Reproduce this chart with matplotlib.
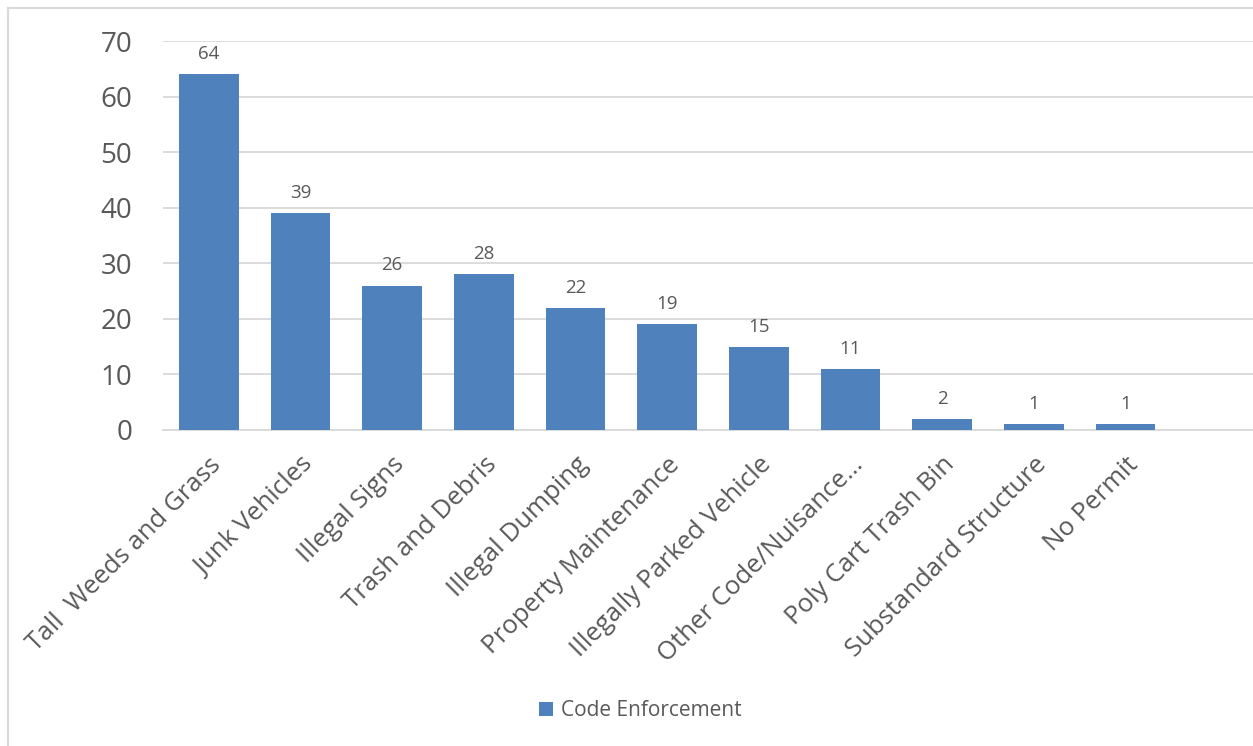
import matplotlib.pyplot as plt
from matplotlib.lines import Line2D

# categorias e valores
categorias = ['Tall  Weeds and Grass', 'Junk Vehicles', 'Illegal Signs', 'Trash and Debris',
              'Illegal Dumping', 'Property Maintenance', 'Illegally Parked Vehicle',
              'Other Code/Nuisance…', 'Poly Cart Trash Bin', 'Substandard Structure', 'No Permit']
valores = [64, 39, 26, 28, 22, 19, 15, 11, 2, 1, 1]
y_ticks = [0, 10, 20, 30, 40, 50, 60, 70]
serie = 'Code Enforcement'

azul = '#4F81BD'
cinza_txt = '#595959'
cinza_linha = '#D9D9D9'

plt.rcParams['font.family'] = ['Open Sans', 'DejaVu Sans']

fig = plt.figure(figsize=(12.53, 7.46), dpi=100)
ax = fig.add_axes([0.130, 0.4236, 0.870, 0.5214])

x = list(range(len(categorias)))
barras = ax.bar(x, valores, width=0.65, color=azul, label=serie, zorder=3)

for xi, v in zip(x, valores):
    ax.annotate(str(v), (xi, v), xytext=(0, 8), textcoords='offset points',
                ha='center', va='bottom', fontsize=13.5, color=cinza_txt)

ax.set_ylim(0, 70)
ax.set_xlim(-0.5, 11.39)
ax.set_yticks(y_ticks)
ax.yaxis.grid(True, color=cinza_linha, linewidth=1.3, zorder=0)
ax.set_axisbelow(True)
for s in ['top', 'right', 'left']:
    ax.spines[s].set_visible(False)
ax.spines['bottom'].set_color(cinza_linha)
ax.spines['bottom'].set_linewidth(1.3)
ax.tick_params(axis='y', length=0, labelsize=20, labelcolor=cinza_txt, pad=22)
ax.tick_params(axis='x', length=0, labelsize=18.5, labelcolor=cinza_txt, pad=16)
ax.set_xticks(x)
ax.set_xticklabels(categorias, rotation=45, ha='right', rotation_mode='anchor')

fig.legend(handles=[barras], labels=[serie], loc='center', bbox_to_anchor=(0.511, 0.047),
           frameon=False, fontsize=15, labelcolor=cinza_txt, handlelength=0.7,
           handleheight=0.7, handletextpad=0.4)

# borda do gráfico
fig.add_artist(Line2D([8 / 1253, 8 / 1253], [0, 1 - 8 / 746], color=cinza_linha, lw=1.5))
fig.add_artist(Line2D([8 / 1253, 1], [1 - 8 / 746, 1 - 8 / 746], color=cinza_linha, lw=1.5))

fig.savefig('out.png', dpi=100)
